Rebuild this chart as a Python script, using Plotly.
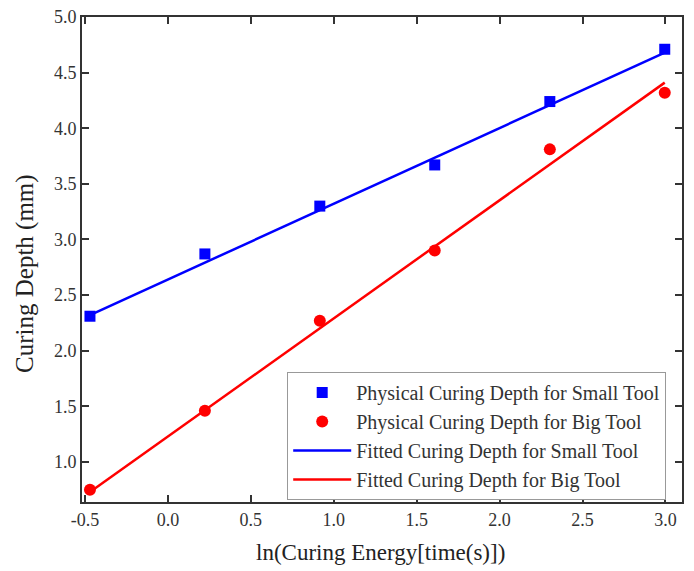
import plotly.graph_objects as go

x_vals = [-0.47, 0.223, 0.916, 1.609, 2.303, 2.996]
small_tool = [2.31, 2.87, 3.30, 3.67, 4.24, 4.71]
big_tool = [0.75, 1.46, 2.27, 2.90, 3.81, 4.32]
fit_x = [-0.47, 2.996]
fit_small = [2.32, 4.68]
fit_big = [0.73, 4.41]

names = ["Physical Curing Depth for Small Tool", "Physical Curing Depth for Big Tool",
         "Fitted Curing Depth for Small Tool", "Fitted Curing Depth for Big Tool"]
x_title = "ln(Curing Energy[time(s)])"
y_title = "Curing Depth (mm)"

SERIF = "Liberation Serif, Times New Roman, DejaVu Serif, serif"

fig = go.Figure()
fig.add_trace(go.Scatter(x=fit_x, y=fit_small, mode="lines", name=names[2],
                         line=dict(color="#0000ff", width=2.5), legendrank=3))
fig.add_trace(go.Scatter(x=fit_x, y=fit_big, mode="lines", name=names[3],
                         line=dict(color="#ff0000", width=2.5), legendrank=4))
fig.add_trace(go.Scatter(x=x_vals, y=small_tool, mode="markers", name=names[0],
                         marker=dict(symbol="square", size=11, color="#0000ff"), legendrank=1))
fig.add_trace(go.Scatter(x=x_vals, y=big_tool, mode="markers", name=names[1],
                         marker=dict(symbol="circle", size=12, color="#ff0000"), legendrank=2))

axis_common = dict(showline=True, linecolor="#333333", linewidth=2, mirror="ticks",
                   ticks="inside", ticklen=7, tickwidth=1.5, tickcolor="#333333",
                   showgrid=False, zeroline=False, automargin=False,
                   tickfont=dict(family=SERIF, size=18, color="#333333"))

fig.update_layout(
    width=694, height=571,
    margin=dict(l=82, r=12, t=17, b=69),
    plot_bgcolor="white", paper_bgcolor="white",
    font=dict(family=SERIF, color="#222222"),
    xaxis=dict(range=[-0.518, 3.1], tickvals=[-0.5, 0, 0.5, 1, 1.5, 2, 2.5, 3],
               ticktext=["-0.5", "0.0", "0.5", "1.0", "1.5", "2.0", "2.5", "3.0"],
               **axis_common),
    yaxis=dict(range=[0.64, 5.0], tickvals=[1, 1.5, 2, 2.5, 3, 3.5, 4, 4.5, 5],
               ticktext=["1.0", "1.5", "2.0", "2.5", "3.0", "3.5", "4.0", "4.5", "5.0"],
               **axis_common),
    legend=dict(x=0.342, y=0.268, xanchor="left", yanchor="top",
                bgcolor="white", bordercolor="#999999", borderwidth=1,
                font=dict(family=SERIF, size=20, color="#333333"),
                tracegroupgap=0, itemwidth=58),
    showlegend=True,
    annotations=[
        dict(text=x_title, xref="paper", yref="paper", x=0.498, y=-0.104,
             xanchor="center", yanchor="middle", showarrow=False,
             font=dict(family=SERIF, size=23, color="#222222")),
        dict(text=y_title, xref="paper", yref="paper", x=-0.096, y=0.471,
             xanchor="center", yanchor="middle", showarrow=False, textangle=-90,
             font=dict(family=SERIF, size=25, color="#222222")),
    ],
)

fig.write_html("out.html")
